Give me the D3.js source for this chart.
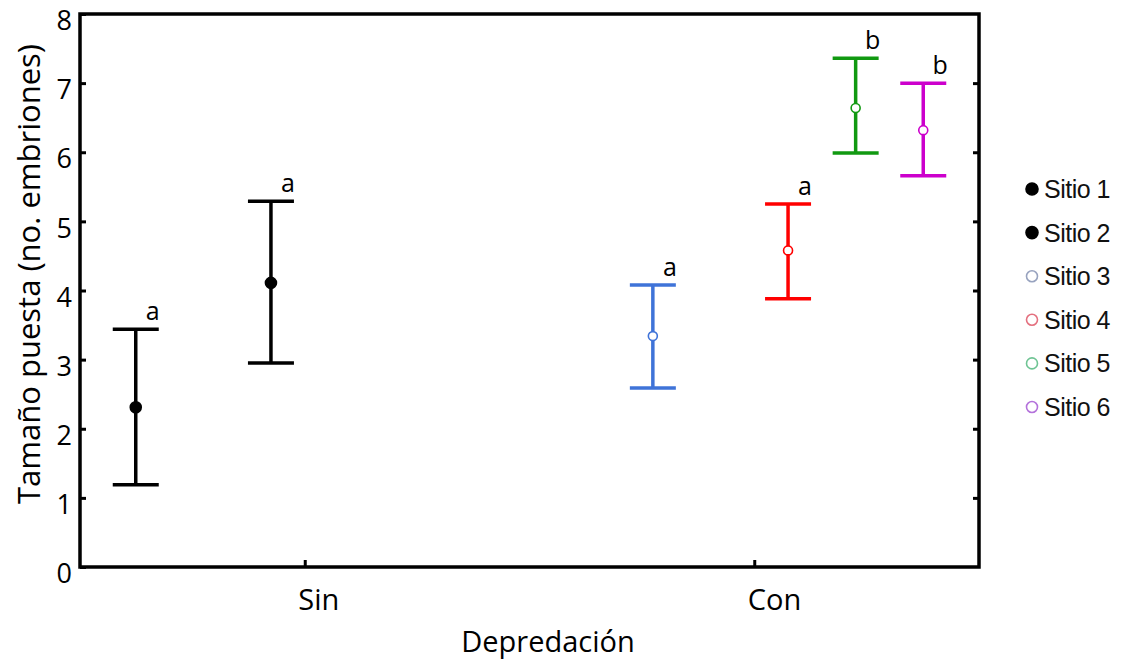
<!DOCTYPE html>
<html>
<head>
<meta charset="utf-8">
<script src="https://cdn.jsdelivr.net/npm/d3@7"></script>
<style>
  html, body { margin: 0; padding: 0; background: #fff; }
  svg { display: block; }
</style>
</head>
<body>
<svg id="chart" width="1125" height="659"></svg>
<script>
// Clutch size by predation treatment and site: mean with interval bars
const groups   = ["Sin", "Con"];
const sites    = ["Sitio 1", "Sitio 2", "Sitio 3", "Sitio 4", "Sitio 5", "Sitio 6"];
const siteGroup = ["Sin", "Sin", "Con", "Con", "Con", "Con"];
const siteSlot  = [0, 2, 1, 3, 4, 5];          // position inside the treatment group
const means    = [2.31, 4.11, 3.34, 4.58, 6.64, 6.32];
const upper    = [3.44, 5.29, 4.08, 5.25, 7.36, 7.00];
const lower    = [1.19, 2.95, 2.59, 3.88, 5.99, 5.66];
const letters  = ["a", "a", "a", "a", "b", "b"];
const yTicks   = [0, 1, 2, 3, 4, 5, 6, 7, 8];

const barColors    = ["#000000", "#000000", "#3f73d8", "#ff0000", "#119911", "#cc00cc"];
const legendColors = ["#000000", "#000000", "#98a3bf", "#e4707f", "#6fc494", "#b472db"];
const filled       = [true, true, false, false, false, false];

const svg = d3.select("#chart");
const m = { left: 80, right: 979, top: 14, bottom: 567 };

const x = d3.scalePoint().domain(groups).range([m.left, m.right]).padding(0.5);
const slot = d3.scalePoint().domain(d3.range(6)).range([-169, 169]);
const y = d3.scaleLinear().domain([0, 8]).range([m.bottom, m.top]);

const data = sites.map((s, i) => ({
  site: s, group: siteGroup[i], slot: siteSlot[i],
  mean: means[i], hi: upper[i], lo: lower[i], letter: letters[i],
  color: barColors[i], filled: filled[i]
}));
const px = d => x(d.group) + slot(d.slot);

const mainFont = "'Open Sans', 'Noto Sans', sans-serif";

// Frame
svg.append("rect")
  .attr("x", m.left).attr("y", m.top)
  .attr("width", m.right - m.left).attr("height", m.bottom - m.top)
  .attr("fill", "none").attr("stroke", "#000").attr("stroke-width", 3.5);

// Left axis (ticks inside the frame)
const yAxis = svg.append("g")
  .attr("transform", `translate(${m.left},0)`)
  .call(d3.axisLeft(y).tickValues(yTicks).tickSizeInner(-6).tickSizeOuter(0).tickPadding(8));
yAxis.select(".domain").remove();
yAxis.selectAll("line").attr("stroke-width", 3);
yAxis.selectAll("text")
  .attr("font-family", mainFont).attr("font-size", 27).attr("fill", "#000")
  .attr("dy", "0.36em").attr("y", 6);

// Right axis ticks
const yRight = svg.append("g")
  .attr("transform", `translate(${m.right},0)`)
  .call(d3.axisRight(y).tickValues(yTicks.slice(1, -1)).tickSizeInner(-6).tickSizeOuter(0).tickFormat(""));
yRight.select(".domain").remove();
yRight.selectAll("line").attr("stroke-width", 3);

// Bottom axis (ticks inside the frame)
const xAxis = svg.append("g")
  .attr("transform", `translate(0,${m.bottom})`)
  .call(d3.axisBottom(x).tickSizeInner(-7).tickSizeOuter(0).tickPadding(22));
xAxis.select(".domain").remove();
xAxis.selectAll("line").attr("stroke-width", 3);
xAxis.selectAll("text")
  .attr("font-family", mainFont).attr("font-size", 29).attr("fill", "#000")
  .attr("text-anchor", "start").attr("dx", -7);

// Axis titles
svg.append("text")
  .attr("x", 548).attr("y", 652)
  .attr("text-anchor", "middle")
  .attr("font-family", mainFont).attr("font-size", 29).attr("fill", "#000")
  .text("Depredación");

svg.append("text")
  .attr("transform", "translate(40,274) rotate(-90)")
  .attr("text-anchor", "middle")
  .attr("font-family", mainFont).attr("font-size", 31).attr("fill", "#000")
  .text("Tamaño puesta (no. embriones)");

// Interval bars
const bars = svg.append("g").selectAll("g").data(data).join("g");
bars.append("line")
  .attr("x1", px).attr("x2", px)
  .attr("y1", d => y(d.hi)).attr("y2", d => y(d.lo))
  .attr("stroke", d => d.color).attr("stroke-width", 3.5);
bars.append("line")
  .attr("x1", d => px(d) - 23).attr("x2", d => px(d) + 23)
  .attr("y1", d => y(d.hi)).attr("y2", d => y(d.hi))
  .attr("stroke", d => d.color).attr("stroke-width", 3.5);
bars.append("line")
  .attr("x1", d => px(d) - 23).attr("x2", d => px(d) + 23)
  .attr("y1", d => y(d.lo)).attr("y2", d => y(d.lo))
  .attr("stroke", d => d.color).attr("stroke-width", 3.5);
bars.append("circle")
  .attr("cx", px).attr("cy", d => y(d.mean))
  .attr("r", d => d.filled ? 5.5 : 4.5)
  .attr("fill", d => d.filled ? d.color : "#fff")
  .attr("stroke", d => d.color).attr("stroke-width", 1.6);

// Significance letters
bars.append("text")
  .attr("x", d => px(d) + 17).attr("y", d => y(d.hi) - 9)
  .attr("text-anchor", "middle")
  .attr("font-family", mainFont).attr("font-size", 25).attr("fill", "#000")
  .text(d => d.letter);

// Legend
const legend = svg.append("g").selectAll("g").data(sites).join("g")
  .attr("transform", (d, i) => `translate(1032,${189 + i * 43.6})`);
legend.append("circle")
  .attr("r", (d, i) => filled[i] ? 6 : 5.5)
  .attr("fill", (d, i) => filled[i] ? legendColors[i] : "#fff")
  .attr("stroke", (d, i) => legendColors[i]).attr("stroke-width", 1.6);
legend.append("text")
  .attr("x", 12).attr("dy", "0.36em")
  .attr("font-family", "'Liberation Sans', Arial, sans-serif")
  .attr("font-size", 25).attr("letter-spacing", -0.5).attr("fill", "#111")
  .text(d => d);
</script>
</body>
</html>
